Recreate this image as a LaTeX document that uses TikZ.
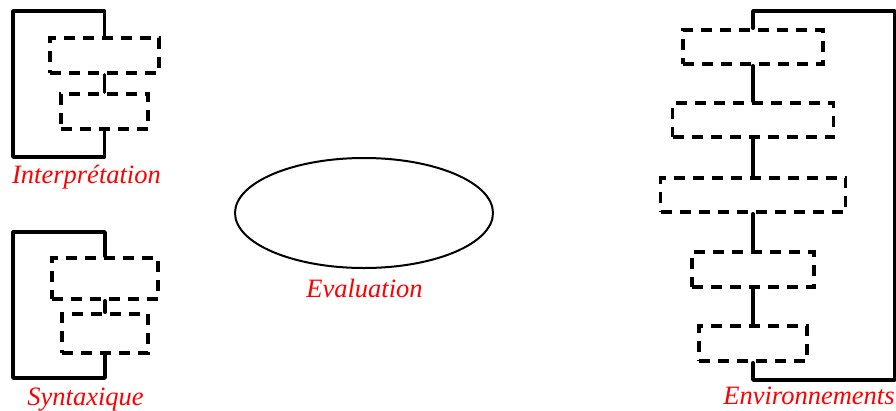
\documentclass[tikz,border=0pt]{standalone}
\usepackage{fontspec}
\setmainfont{Liberation Serif}
\usetikzlibrary{shapes.geometric}
\definecolor{labelred}{RGB}{255,0,0}
\tikzset{
  frame/.style={
    line width=3.5pt,
    line cap=round,
    line join=round
  },
  dashbox/.style={
    draw,
    line width=3.5pt,
    dash pattern=on 11pt off 8pt,
    inner sep=0pt
  },
  blocklabel/.style={
    text=labelred,
    font=\fontsize{26.5}{30}\selectfont\itshape,
    anchor=base,
    inner sep=0pt
  }
}

\begin{document}
\begin{tikzpicture}[x=1pt,y=-1pt]
  \useasboundingbox (0,0) rectangle (896,410);
  % Interpretation
  \node[dashbox, minimum width=109pt, minimum height=35pt] (i1) at (104.5,55.5) {};
  \node[dashbox, minimum width=87pt, minimum height=35pt] (i2) at (104.5,111.5) {};
  \coordinate (itop) at (13,11);
  \coordinate (ibot) at (13,157);
  \draw[frame] (i1.north) |- (itop) -- (ibot) -| (i2.south);
  \draw[frame] (i1.south) -- (i2.north);
  \node[blocklabel] (ilab) at (86.5,183) {Interprétation};
  % Syntaxique
  \node[dashbox, minimum width=106pt, minimum height=41pt] (s1) at (105,278.5) {};
  \node[dashbox, minimum width=86pt, minimum height=39pt] (s2) at (105,333.5) {};
  \coordinate (stop) at (13,232);
  \coordinate (sbot) at (13,378);
  \draw[frame] (s1.north) |- (stop) -- (sbot) -| (s2.south);
  \draw[frame] (s1.south) -- (s2.north);
  \node[blocklabel] (slab) at (85.5,405) {Syntaxique};
  % Evaluation
  \node[ellipse, draw, line width=2pt, minimum width=258pt, minimum height=110pt] (eval) at (364,213) {};
  \node[blocklabel] (evlab) at (364.5,297) {Evaluation};
  % Environnements
  \node[dashbox, minimum width=140pt, minimum height=34pt] (e1) at (753,47) {};
  \node[dashbox, minimum width=161pt, minimum height=34pt] (e2) at (753,120) {};
  \node[dashbox, minimum width=185pt, minimum height=34pt] (e3) at (753,195) {};
  \node[dashbox, minimum width=122pt, minimum height=35pt] (e4) at (753,269.5) {};
  \node[dashbox, minimum width=108pt, minimum height=35pt] (e5) at (753,343.5) {};
  \coordinate (etop) at (895,11);
  \coordinate (ebot) at (895,380);
  \draw[frame] (e1.north) |- (etop) -- (ebot) -| (e5.south);
  \foreach \a/\b in {e1/e2,e2/e3,e3/e4,e4/e5} {
    \draw[frame] (\a.south) -- (\b.north);
  }
  \node[blocklabel] (elab) at (809,404) {Environnements};
\end{tikzpicture}
\end{document}
